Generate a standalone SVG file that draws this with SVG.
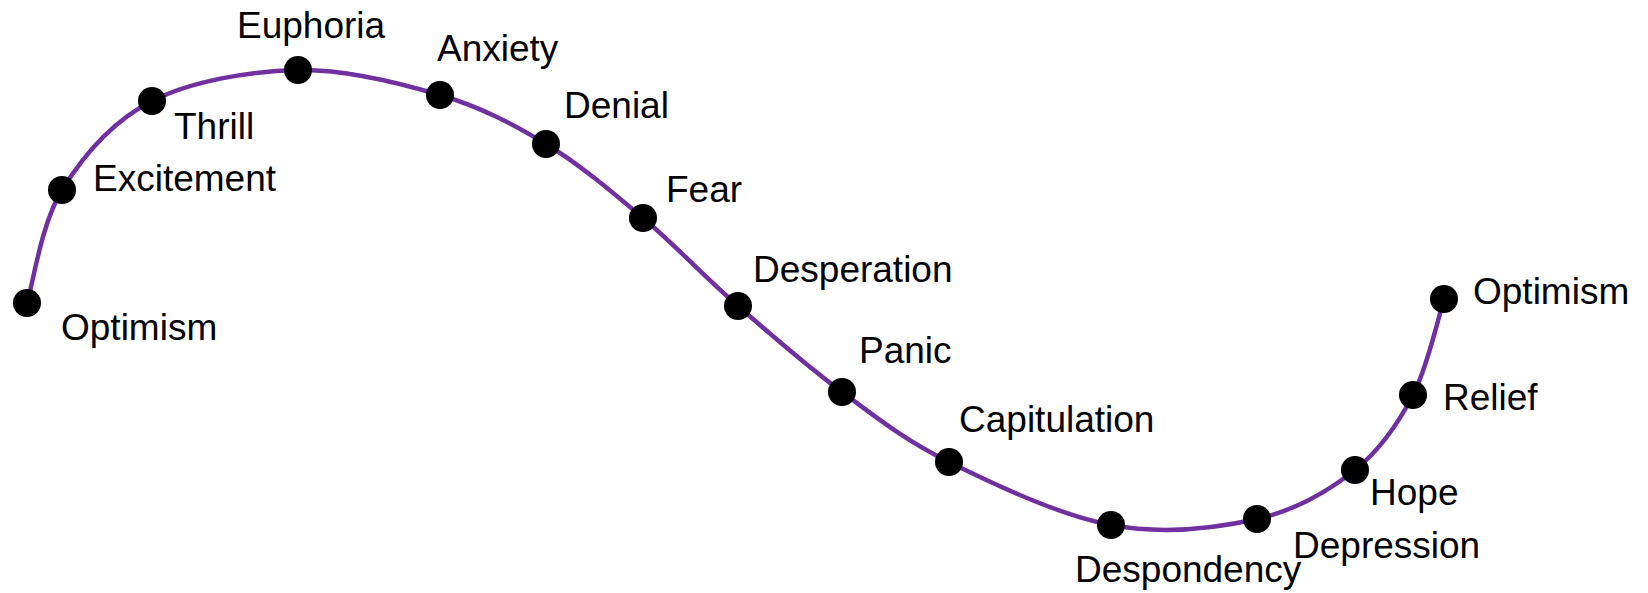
<svg xmlns="http://www.w3.org/2000/svg" width="1648" height="593" viewBox="0 0 1648 593">
<style>
.dot{fill:#000000}
.lbl{font-family:"Liberation Sans",Arial,sans-serif;font-size:37px;fill:#000000}
.curve{fill:none;stroke:#7030A0;stroke-width:4.5;stroke-linecap:round}
</style>
<rect width="1648" height="593" fill="#ffffff"/>
<g id="connectors">
<path class="curve" d="M27,303 C33,284 41.2,223.7 62,190 C82.8,156.3 112.7,121 152,101 C191.3,81 250,71 298,70 C346,69 398.7,82.7 440,95 C481.3,107.3 512.2,123.5 546,144 C579.8,164.5 611,191 643,218 C675,245 704.8,277 738,306 C771.2,335 806.8,366 842,392 C877.2,418 904.2,439.8 949,462 C993.8,484.2 1059.7,515.5 1111,525 C1162.3,534.5 1216.3,528.2 1257,519 C1297.7,509.8 1329,490.7 1355,470 C1381,449.3 1398.2,423.5 1413,395 C1427.8,366.5 1439,315 1444,299"/>
</g>
<g id="optimism-start"><circle class="dot" cx="27" cy="303" r="14"/><text class="lbl" x="61" y="340">Optimism</text></g>
<g id="excitement"><circle class="dot" cx="62" cy="190" r="14"/><text class="lbl" x="93" y="191">Excitement</text></g>
<g id="thrill"><circle class="dot" cx="152" cy="101" r="14"/><text class="lbl" x="174" y="139">Thrill</text></g>
<g id="euphoria"><circle class="dot" cx="298" cy="70" r="14"/><text class="lbl" x="237" y="38">Euphoria</text></g>
<g id="anxiety"><circle class="dot" cx="440" cy="95" r="14"/><text class="lbl" x="437" y="61">Anxiety</text></g>
<g id="denial"><circle class="dot" cx="546" cy="144" r="14"/><text class="lbl" x="564" y="118">Denial</text></g>
<g id="fear"><circle class="dot" cx="643" cy="218" r="14"/><text class="lbl" x="666" y="202">Fear</text></g>
<g id="desperation"><circle class="dot" cx="738" cy="306" r="14"/><text class="lbl" x="753" y="282">Desperation</text></g>
<g id="panic"><circle class="dot" cx="842" cy="392" r="14"/><text class="lbl" x="859" y="363">Panic</text></g>
<g id="capitulation"><circle class="dot" cx="949" cy="462" r="14"/><text class="lbl" x="959" y="432">Capitulation</text></g>
<g id="despondency"><circle class="dot" cx="1111" cy="525" r="14"/><text class="lbl" x="1075" y="582">Despondency</text></g>
<g id="depression"><circle class="dot" cx="1257" cy="519" r="14"/><text class="lbl" x="1293" y="558">Depression</text></g>
<g id="hope"><circle class="dot" cx="1355" cy="470" r="14"/><text class="lbl" x="1370" y="505">Hope</text></g>
<g id="relief"><circle class="dot" cx="1413" cy="395" r="14"/><text class="lbl" x="1443" y="410">Relief</text></g>
<g id="optimism-end"><circle class="dot" cx="1444" cy="299" r="14"/><text class="lbl" x="1473" y="304">Optimism</text></g>
</svg>
